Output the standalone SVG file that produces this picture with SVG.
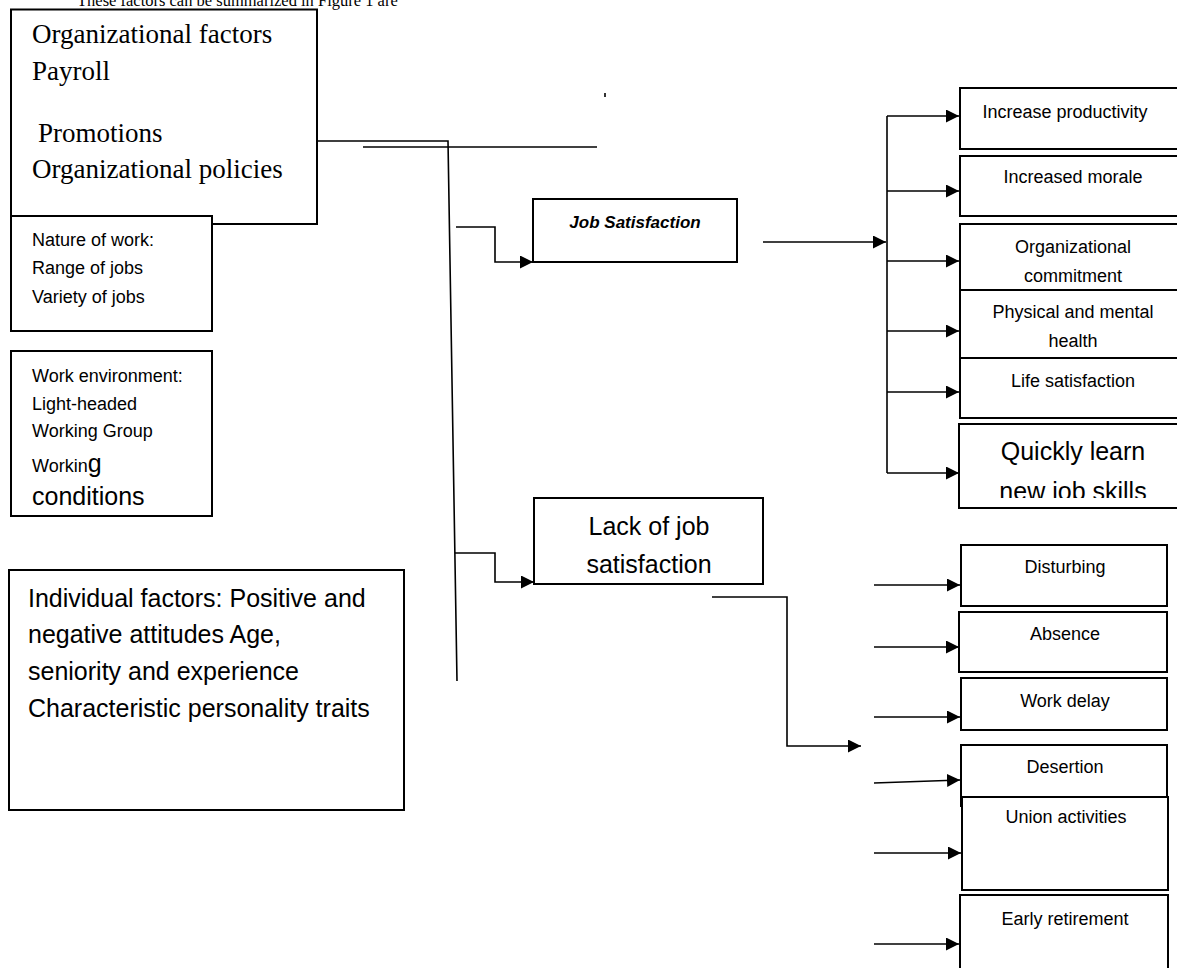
<svg xmlns="http://www.w3.org/2000/svg" width="1177" height="968" viewBox="0 0 1177 968">
<style>
.box{fill:#fff;stroke:#000;stroke-width:2}
.ln{fill:none;stroke:#000;stroke-width:1.6}
.serif{font-family:"Liberation Serif","Times New Roman",serif;fill:#000}
.sans{font-family:"Liberation Sans",Arial,sans-serif;fill:#000}
.s18{font-size:18px}
.s25{font-size:25px}
.mid{text-anchor:middle}
</style>
<defs>
<marker id="ah" markerUnits="userSpaceOnUse" markerWidth="14" markerHeight="14" refX="13" refY="6.5" orient="auto">
<path d="M0,0 L13,6.5 L0,13 Z" fill="#000"/>
</marker>
<clipPath id="clipQ"><rect x="959" y="424" width="230" height="74"/></clipPath>
</defs>
<rect width="1177" height="968" fill="#fff"/>
<text class="serif" x="77" y="6" font-size="16.5">These factors can be summarized in Figure 1 are</text>

<g id="connectors">
<polyline class="ln" points="317,141 448,141 457,681"/>
<line class="ln" x1="363" y1="147" x2="597" y2="147"/>
<line class="ln" x1="605" y1="93" x2="605" y2="97"/>
<polyline class="ln" points="456,227 495,227 495,262 533,262" marker-end="url(#ah)"/>
<polyline class="ln" points="455,553 495,553 495,582 534,582" marker-end="url(#ah)"/>
<line class="ln" x1="763" y1="242" x2="886" y2="242" marker-end="url(#ah)"/>
<line class="ln" x1="887" y1="116" x2="887" y2="473"/>
<line class="ln" x1="887" y1="116" x2="959" y2="116" marker-end="url(#ah)"/>
<line class="ln" x1="887" y1="191" x2="959" y2="191" marker-end="url(#ah)"/>
<line class="ln" x1="887" y1="261" x2="959" y2="261" marker-end="url(#ah)"/>
<line class="ln" x1="887" y1="331" x2="959" y2="331" marker-end="url(#ah)"/>
<line class="ln" x1="887" y1="392" x2="959" y2="392" marker-end="url(#ah)"/>
<line class="ln" x1="887" y1="473" x2="959" y2="473" marker-end="url(#ah)"/>
<polyline class="ln" points="712,597 787,597 787,746 861,746" marker-end="url(#ah)"/>
<line class="ln" x1="874" y1="585" x2="960" y2="585" marker-end="url(#ah)"/>
<line class="ln" x1="874" y1="647" x2="959" y2="647" marker-end="url(#ah)"/>
<line class="ln" x1="874" y1="717" x2="960" y2="717" marker-end="url(#ah)"/>
<line class="ln" x1="874" y1="783" x2="960" y2="780" marker-end="url(#ah)"/>
<line class="ln" x1="874" y1="853" x2="961" y2="853" marker-end="url(#ah)"/>
<line class="ln" x1="874" y1="944" x2="959" y2="944" marker-end="url(#ah)"/>
</g>

<g id="org-factors">
<rect class="box" x="11" y="9.5" width="306" height="214.5"/>
<text class="serif" font-size="27" x="32" y="43">Organizational factors</text>
<text class="serif" font-size="27" x="32" y="80">Payroll</text>
<text class="serif" font-size="27" x="38" y="142">Promotions</text>
<text class="serif" font-size="27" x="32" y="178">Organizational policies</text>
</g>

<g id="nature-of-work">
<rect class="box" x="11" y="216" width="201" height="115"/>
<text class="sans s18" x="32" y="246">Nature of work:</text>
<text class="sans s18" x="32" y="274">Range of jobs</text>
<text class="sans s18" x="32" y="303">Variety of jobs</text>
</g>

<g id="work-environment">
<rect class="box" x="11" y="351" width="201" height="165"/>
<text class="sans s18" x="32" y="382">Work environment:</text>
<text class="sans s18" x="32" y="410">Light-headed</text>
<text class="sans s18" x="32" y="437">Working Group</text>
<text class="sans s18" x="32" y="472">Workin<tspan font-size="25">g</tspan></text>
<text class="sans" font-size="25" x="32" y="505">conditions</text>
</g>

<g id="individual-factors">
<rect class="box" x="9" y="570" width="395" height="240"/>
<text class="sans s25" x="28" y="607">Individual factors: Positive and</text>
<text class="sans s25" x="28" y="643">negative attitudes Age,</text>
<text class="sans s25" x="28" y="680">seniority and experience</text>
<text class="sans s25" x="28" y="717">Characteristic personality traits</text>
</g>

<g id="job-satisfaction">
<rect class="box" x="533" y="199" width="204" height="63"/>
<text class="sans" font-size="17" font-weight="bold" font-style="italic" x="635" y="228" text-anchor="middle">Job Satisfaction</text>
</g>

<g id="lack-of-job-satisfaction">
<rect class="box" x="534" y="498" width="229" height="86"/>
<text class="sans s25 mid" x="649" y="535">Lack of job</text>
<text class="sans s25 mid" x="649" y="573">satisfaction</text>
</g>

<g id="increase-productivity">
<rect class="box" x="960" y="88" width="230" height="61"/>
<text class="sans s18 mid" x="1065" y="118">Increase productivity</text>
</g>
<g id="increased-morale">
<rect class="box" x="960" y="156" width="230" height="60"/>
<text class="sans s18 mid" x="1073" y="183">Increased morale</text>
</g>
<g id="organizational-commitment">
<rect class="box" x="960" y="224" width="230" height="66"/>
<text class="sans s18 mid" x="1073" y="253">Organizational</text>
<text class="sans s18 mid" x="1073" y="282">commitment</text>
</g>
<g id="physical-mental-health">
<rect class="box" x="960" y="290" width="230" height="68"/>
<text class="sans s18 mid" x="1073" y="318">Physical and mental</text>
<text class="sans s18 mid" x="1073" y="347">health</text>
</g>
<g id="life-satisfaction">
<rect class="box" x="960" y="358" width="230" height="60"/>
<text class="sans s18 mid" x="1073" y="387">Life satisfaction</text>
</g>
<g id="quickly-learn">
<rect class="box" x="959" y="424" width="230" height="84"/>
<g clip-path="url(#clipQ)">
<text class="sans s25 mid" x="1073" y="460">Quickly learn</text>
<text class="sans s25 mid" x="1073" y="500">new job skills</text>
</g>
</g>

<g id="disturbing">
<rect class="box" x="961" y="545" width="206" height="61"/>
<text class="sans s18 mid" x="1065" y="573">Disturbing</text>
</g>
<g id="absence">
<rect class="box" x="959" y="612" width="208" height="60"/>
<text class="sans s18 mid" x="1065" y="640">Absence</text>
</g>
<g id="work-delay">
<rect class="box" x="961" y="678" width="206" height="52"/>
<text class="sans s18 mid" x="1065" y="707">Work delay</text>
</g>
<g id="desertion">
<rect class="box" x="961" y="745" width="206" height="61"/>
<text class="sans s18 mid" x="1065" y="773">Desertion</text>
</g>
<g id="union-activities">
<rect class="box" x="962" y="797" width="206" height="93"/>
<text class="sans s18 mid" x="1066" y="823">Union activities</text>
</g>
<g id="early-retirement">
<rect class="box" x="960" y="895" width="208" height="80"/>
<text class="sans s18 mid" x="1065" y="925">Early retirement</text>
</g>
</svg>
